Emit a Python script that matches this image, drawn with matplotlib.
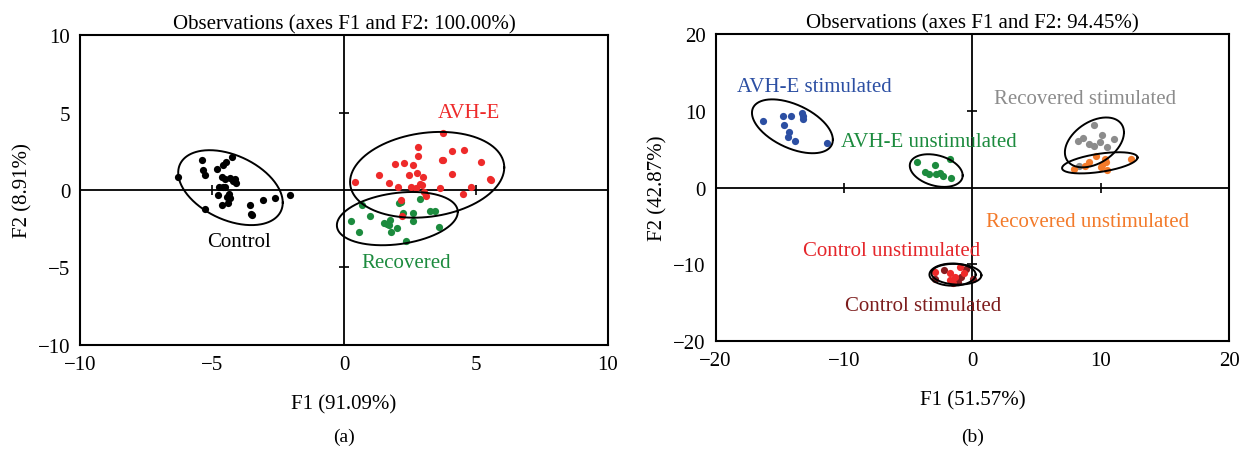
import numpy as np
import matplotlib
matplotlib.use("Agg")
import matplotlib.pyplot as plt

plt.rcParams['font.family'] = ['Liberation Serif', 'DejaVu Serif']

# ---------------- Panel (a) data ----------------
control_x = [-6.30, -5.37, -5.34, -5.26, -4.80, -4.60, -4.47, -4.23, -4.64, -4.49, -4.30, -4.13, -4.10,
             -4.72, -4.57, -4.49, -4.77, -4.37, -4.32, -4.64, -4.41, -5.25, -3.56, -3.48, -3.51, -3.05,
             -2.62, -2.03, -4.20, -4.45]
control_y = [0.84, 1.91, 1.26, 0.98, 1.37, 1.63, 1.80, 2.10, 0.81, 0.69, 0.79, 0.69, 0.47,
             0.19, 0.19, 0.19, -0.34, -0.28, -0.54, -0.96, -0.86, -1.26, -0.96, -1.61, -1.52, -0.64,
             -0.49, -0.34, 0.55, -0.45]
avh_x = [3.75, 2.79, 2.79, 4.10, 4.54, 3.72, 5.20, 1.93, 2.26, 2.62, 1.31, 2.77, 2.99, 4.10, 2.46, 0.42,
         1.70, 5.54, 2.06, 2.52, 2.71, 2.86, 2.94, 3.65, 4.80, 3.02, 3.10, 4.49, 2.17, 2.21, 3.76, 5.58]
avh_y = [3.68, 2.76, 2.21, 2.53, 2.59, 1.91, 1.82, 1.67, 1.76, 1.61, 0.98, 1.07, 0.84, 1.05, 0.98, 0.54,
         0.47, 0.69, 0.21, 0.19, 0.15, 0.36, 0.32, 0.13, 0.21, -0.13, -0.41, -0.28, -0.64, -1.67, 1.95, 0.66]
rec_x = [0.67, 2.86, 2.09, 2.17, 0.25, 0.98, 2.24, 2.63, 3.25, 3.45, 1.52, 1.63, 1.75, 1.69, 2.63, 2.01,
         0.56, 1.78, 3.59, 2.35]
rec_y = [-0.94, -0.56, -0.86, -0.75, -2.03, -1.65, -1.48, -1.48, -1.35, -1.33, -2.16, -2.21, -1.95, -2.25,
         -2.03, -2.48, -2.74, -2.72, -2.36, -3.30]

# ellipses: (cx, cy, half-width, half-height, correlation)
ell_a = [(-4.30, 0.15, 1.98, 2.42, -0.40),
         (3.15, 0.98, 2.92, 2.77, 0.17),
         (2.02, -1.85, 2.29, 1.72, 0.25)]

# ---------------- Panel (b) data ----------------
avh_st_x = [-16.30, -14.79, -14.13, -13.28, -13.16, -14.70, -14.31, -14.40, -13.83, -11.30, -13.20]
avh_st_y = [8.73, 9.34, 9.34, 9.65, 8.99, 8.11, 7.24, 6.62, 6.01, 5.83, 9.30]
avh_un_x = [-4.34, -2.92, -1.75, -3.70, -3.40, -2.80, -2.50, -2.26, -1.66]
avh_un_y = [3.38, 2.94, 3.73, 2.06, 1.75, 1.75, 1.89, 1.54, 1.18]
rec_st_x = [9.49, 8.22, 8.64, 9.04, 9.49, 9.91, 10.09, 10.45, 11.00, 8.28]
rec_st_y = [8.11, 6.05, 6.45, 5.70, 5.39, 5.92, 6.89, 5.26, 6.27, 2.85]
rec_un_x = [9.61, 9.10, 8.80, 7.89, 10.30, 10.39, 10.09, 10.00, 10.48, 12.32]
rec_un_y = [4.17, 3.29, 2.85, 2.46, 3.73, 3.29, 2.94, 2.70, 2.28, 3.73]
ctl_st_x = [-2.93, -2.24, -0.53, 0.04, -1.12, -0.90]
ctl_st_y = [-11.97, -10.75, -10.65, -11.97, -12.29, -11.60]
ctl_un_x = [-1.77, -0.94, -0.69, -1.72, -1.54, -1.33, -2.89]
ctl_un_y = [-11.10, -10.31, -11.18, -12.06, -12.42, -11.63, -11.05]

ell_b = [(-14.02, 7.98, 3.15, 3.51, -0.50),
         (-2.82, 2.21, 2.06, 2.13, -0.30),
         (9.50, 5.88, 2.30, 3.25, 0.40),
         (9.92, 3.22, 2.94, 1.38, 0.50),
         (-1.55, -11.35, 1.80, 1.45, 0.0),
         (-1.25, -11.30, 1.95, 1.35, -0.10)]

C_BLUE = '#2C4FA3'
C_GREEN = '#1C8B3E'
C_GREY = '#8C8C8C'
C_ORANGE = '#F37A2A'
C_RED = '#EE2A2A'
C_DRED = '#8A1C1F'

fig = plt.figure(figsize=(12.5, 4.52), dpi=100)
axa = fig.add_axes([0.064, 0.235, 0.4224, 0.685])
axb = fig.add_axes([0.5725, 0.2434, 0.4109, 0.679])

FS = 15
MS = 27


def draw_ellipse(ax, cx, cy, a, b, c):
    t = np.linspace(0, 2 * np.pi, 300)
    phi = np.arccos(c)
    ax.plot(cx + a * np.cos(t), cy + b * np.cos(t + phi), color='black', lw=1.4, zorder=4)


def style(ax, lim, step, title, xl, yl):
    ax.set_xlim(-lim, lim)
    ax.set_ylim(-lim, lim)
    ticks = np.arange(-lim, lim + 0.1, step)
    ax.set_xticks(ticks)
    ax.set_yticks(ticks)
    ax.tick_params(length=0, labelsize=FS, pad=7)
    for s in ax.spines.values():
        s.set_linewidth(1.5)
    ax.axhline(0, color='black', lw=1.3, zorder=2)
    ax.axvline(0, color='black', lw=1.3, zorder=2)
    inner = ticks[ticks != 0]
    ax.plot(inner, np.zeros_like(inner), ls='none', marker='|', ms=7, mew=1.2, color='black', zorder=2, clip_on=False)
    ax.plot(np.zeros_like(inner), inner, ls='none', marker='_', ms=7, mew=1.2, color='black', zorder=2, clip_on=False)
    ax.set_title(title, fontsize=FS, pad=5)
    ax.set_xlabel(xl, fontsize=FS, labelpad=15)
    ax.set_ylabel(yl, fontsize=FS, labelpad=4)


style(axa, 10, 5, 'Observations (axes F1 and F2: 100.00%)', 'F1 (91.09%)', 'F2 (8.91%)')
axa.scatter(control_x, control_y, s=MS, color='black', zorder=3, linewidths=0)
axa.scatter(rec_x, rec_y, s=MS, color=C_GREEN, zorder=3, linewidths=0)
axa.scatter(avh_x, avh_y, s=MS, color=C_RED, zorder=3, linewidths=0)
for e in ell_a:
    draw_ellipse(axa, *e)
axa.text(4.72, 5.03, 'AVH-E', color=C_RED, fontsize=FS, ha='center', va='center')
axa.text(-3.99, -3.32, 'Control', color='black', fontsize=FS, ha='center', va='center')
axa.text(2.35, -4.67, 'Recovered', color=C_GREEN, fontsize=FS, ha='center', va='center')

style(axb, 20, 10, 'Observations (axes F1 and F2: 94.45%)', 'F1 (51.57%)', 'F2 (42.87%)')
axb.scatter(avh_st_x, avh_st_y, s=MS, color=C_BLUE, zorder=3, linewidths=0)
axb.scatter(avh_un_x, avh_un_y, s=MS, color=C_GREEN, zorder=3, linewidths=0)
axb.scatter(rec_st_x, rec_st_y, s=MS, color=C_GREY, zorder=3, linewidths=0)
axb.scatter(rec_un_x, rec_un_y, s=MS, color=C_ORANGE, zorder=3, linewidths=0)
axb.scatter(ctl_st_x, ctl_st_y, s=MS, color=C_DRED, zorder=3, linewidths=0)
axb.scatter(ctl_un_x, ctl_un_y, s=MS, color=C_RED, zorder=3, linewidths=0)
for e in ell_b:
    draw_ellipse(axb, *e)
axb.text(-12.29, 13.16, 'AVH-E stimulated', color=C_BLUE, fontsize=FS, ha='center', va='center')
axb.text(-3.40, 6.01, 'AVH-E unstimulated', color=C_GREEN, fontsize=FS, ha='center', va='center', zorder=5)
axb.text(8.80, 11.62, 'Recovered stimulated', color=C_GREY, fontsize=FS, ha='center', va='center')
axb.text(9.00, -4.47, 'Recovered unstimulated', color=C_ORANGE, fontsize=FS, ha='center', va='center')
axb.text(-6.27, -8.25, 'Control unstimulated', color='#E5262B', fontsize=FS, ha='center', va='center', zorder=5)
axb.text(-3.86, -15.44, 'Control stimulated', color='#7D1D1D', fontsize=FS, ha='center', va='center', zorder=5)

fig.text(0.2752, 0.033, '(a)', fontsize=FS - 1, ha='center', va='center')
fig.text(0.7780, 0.033, '(b)', fontsize=FS - 1, ha='center', va='center')

fig.savefig('out.png', dpi=100)
